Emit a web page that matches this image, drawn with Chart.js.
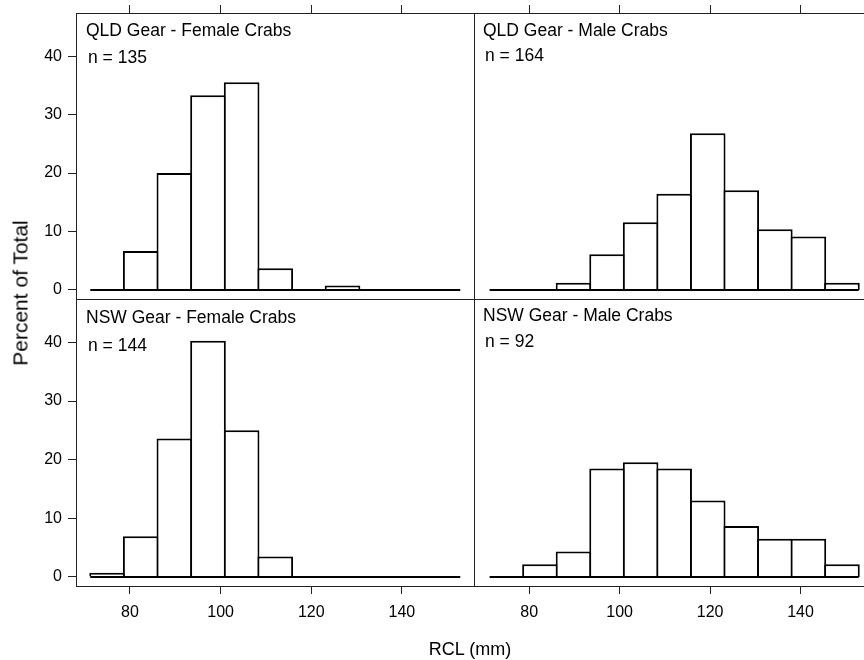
<!DOCTYPE html>
<html>
<head>
<meta charset="utf-8">
<script src="https://cdn.jsdelivr.net/npm/chart.js@4/dist/chart.umd.min.js"></script>
<style>
    html, body { margin: 0; padding: 0; background: #fff; overflow: hidden; }
    #wrap { position: relative; width: 864px; height: 660px; overflow: hidden; }
    canvas { position: absolute; left: 0; top: 0; }
    .txt { position: absolute; font-family: 'Liberation Sans', Arial, sans-serif; color: #000; line-height: 1; white-space: nowrap; }
    .panel { font-size: 17.5px; }
</style>
</head>
<body>
<div id="wrap">
    <canvas id="qldFemale" width="880" height="660"></canvas>
    <canvas id="qldMale" width="880" height="660"></canvas>
    <canvas id="nswFemale" width="880" height="660"></canvas>
    <canvas id="nswMale" width="880" height="660"></canvas>

    <div class="txt panel" style="left:86px;top:22px">QLD Gear - Female Crabs</div>
    <div class="txt panel" style="left:88px;top:49px">n = 135</div>
    <div class="txt panel" style="left:483px;top:22px">QLD Gear - Male Crabs</div>
    <div class="txt panel" style="left:485px;top:47px">n = 164</div>
    <div class="txt panel" style="left:86px;top:309px">NSW Gear - Female Crabs</div>
    <div class="txt panel" style="left:88px;top:337px">n = 144</div>
    <div class="txt panel" style="left:483px;top:307px">NSW Gear - Male Crabs</div>
    <div class="txt panel" style="left:485px;top:333px">n = 92</div>

    <div class="txt" style="left:470px;top:640px;font-size:18px;transform:translateX(-50%)">RCL (mm)</div>
    <div class="txt" style="left:19.5px;top:292.5px;font-size:21px;transform:translate(-50%,-50%) rotate(-90deg)">Percent of Total</div>
</div>

<script>
// bin centres of the RCL histogram (mm)
const binMids = [74.96, 82.38, 89.80, 97.22, 104.64, 112.06, 119.48, 126.90, 134.32, 141.74, 149.16]
const xTicks = [80, 100, 120, 140]
const yTicks = [0, 10, 20, 30, 40]

// percent of total per bin
const qldFemale = [0, 6.67, 20.0, 33.33, 35.56, 3.70, 0, 0.74, 0, 0, 0]
const qldMale = [0, 0, 1.22, 6.10, 11.59, 16.46, 26.83, 17.07, 10.37, 9.15, 1.22]
const nswFemale = [0.69, 6.94, 23.61, 40.28, 25.0, 3.47, 0, 0, 0, 0, 0]
const nswMale = [0, 2.17, 4.35, 18.48, 19.57, 18.48, 13.04, 8.70, 6.52, 6.52, 2.17]

Chart.defaults.font.family = "'Liberation Sans', Arial, sans-serif"
Chart.defaults.color = '#000'

const framePlugin = {
    id: 'frame',
    afterDraw(chart) {
        const a = chart.chartArea
        const ctx = chart.ctx
        ctx.save()
        ctx.strokeStyle = '#222'
        ctx.lineWidth = 1
        ctx.strokeRect(Math.round(a.left) + 0.5, Math.round(a.top) + 0.5,
            Math.round(a.right - a.left), Math.round(a.bottom - a.top))
        ctx.restore()
    }
}

function noPad(s) {
    s.paddingTop = 0
    s.paddingBottom = 0
    s.paddingLeft = 0
    s.paddingRight = 0
}

function createPanel(id, values, pos) {
    const half = (binMids[1] - binMids[0]) / 2
    const top = pos.row === 0
    const left = pos.col === 0

    new Chart(document.getElementById(id).getContext('2d'), {
        type: 'bar',
        data: {
            datasets: [
                {
                    type: 'line',
                    data: [
                        { x: binMids[0] - half, y: 0 },
                        { x: binMids[binMids.length - 1] + half, y: 0 }
                    ],
                    borderColor: '#000',
                    borderWidth: 2,
                    pointRadius: 0,
                    order: 0
                },
                {
                    type: 'bar',
                    data: binMids.map((x, i) => ({ x: x, y: values[i] })),
                    backgroundColor: '#fff',
                    borderColor: '#000',
                    borderWidth: 2,
                    barPercentage: 1.06,
                    categoryPercentage: 1,
                    order: 1
                }
            ]
        },
        options: {
            responsive: false,
            animation: false,
            events: [],
            layout: {
                padding: {
                    left: left ? 0 : 474,
                    right: left ? 406 : 8,
                    top: top ? 0 : 299,
                    bottom: top ? 361 : 0
                }
            },
            plugins: {
                legend: { display: false },
                tooltip: { enabled: false }
            },
            scales: {
                x: {
                    type: 'linear',
                    position: top ? 'top' : 'bottom',
                    min: left ? 68.1 : 67.8,
                    max: left ? 155.9 : 155.8,
                    offset: false,
                    afterBuildTicks: s => { s.ticks = xTicks.map(v => ({ value: v })) },
                    afterFit: s => { s.height = top ? 13 : 74; noPad(s) },
                    grid: { drawOnChartArea: false, offset: false, tickLength: 8, color: '#222', lineWidth: 1 },
                    border: { display: false },
                    ticks: { display: !top, font: { size: 16 }, padding: 9, maxRotation: 0, autoSkip: false }
                },
                y: {
                    display: left,
                    min: -1.55,
                    max: 47.4,
                    afterBuildTicks: s => { s.ticks = yTicks.map(v => ({ value: v })) },
                    afterFit: s => { s.width = left ? 76 : 0; noPad(s) },
                    grid: { drawOnChartArea: false, tickLength: 8, color: '#222', lineWidth: 1 },
                    border: { display: false },
                    ticks: { font: { size: 16 }, padding: 6 }
                }
            }
        },
        plugins: [framePlugin]
    })
}

createPanel('qldFemale', qldFemale, { row: 0, col: 0 })
createPanel('qldMale', qldMale, { row: 0, col: 1 })
createPanel('nswFemale', nswFemale, { row: 1, col: 0 })
createPanel('nswMale', nswMale, { row: 1, col: 1 })
</script>
</body>
</html>
